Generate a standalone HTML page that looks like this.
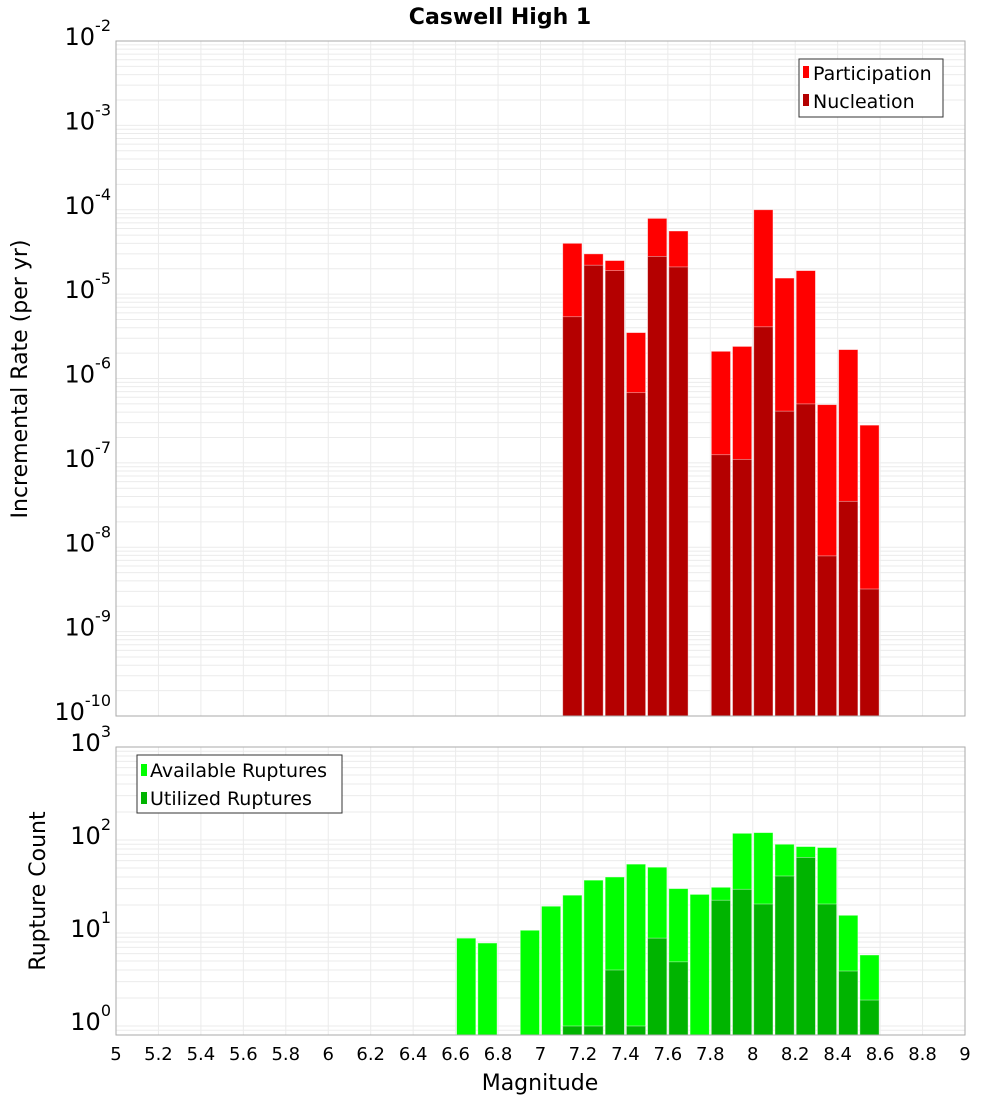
<!DOCTYPE html>
<html><head><meta charset="utf-8"><style>
body{margin:0;background:#fff}
svg text{font-family:"DejaVu Sans","Liberation Sans",sans-serif}
</style></head><body>
<svg id="c" width="1000" height="1100" xmlns="http://www.w3.org/2000/svg">
<text x="500" y="24" text-anchor="middle" font-size="22" font-weight="bold">Caswell High 1</text>
<g id="topPlot"></g>
<g id="botPlot"></g>
<text transform="translate(27,379) rotate(-90)" text-anchor="middle" font-size="22">Incremental Rate (per yr)</text>
<text transform="translate(45,891) rotate(-90)" text-anchor="middle" font-size="22">Rupture Count</text>
<text x="540" y="1090" text-anchor="middle" font-size="22">Magnitude</text>
<g>
<rect x="799" y="59" width="144" height="58" fill="#fff" stroke="#333"/>
<rect x="803" y="66" width="6" height="12" fill="#ff0000"/>
<text x="813" y="80" font-size="19">Participation</text>
<rect x="803" y="94" width="6" height="12" fill="#b40000"/>
<text x="813" y="108" font-size="19">Nucleation</text>
</g>
<g>
<rect x="137" y="755" width="205" height="58" fill="#fff" stroke="#333"/>
<rect x="141" y="764" width="6" height="12" fill="#00ff00"/>
<text x="150" y="777" font-size="19">Available Ruptures</text>
<rect x="141" y="792" width="6" height="12" fill="#00b400"/>
<text x="150" y="805" font-size="19">Utilized Ruptures</text>
</g>
</svg>
<script>
const rateMags=[7.15,7.25,7.35,7.45,7.55,7.65,7.85,7.95,8.05,8.15,8.25,8.35,8.45,8.55];
const participation=[4.0e-5,3.0e-5,2.5e-5,3.5e-6,7.9e-5,5.6e-5,2.1e-6,2.4e-6,1.0e-4,1.55e-5,1.9e-5,4.9e-7,2.2e-6,2.8e-7];
const nucleation=[5.4e-6,2.2e-5,1.9e-5,6.8e-7,2.8e-5,2.1e-5,1.25e-7,1.1e-7,4.1e-6,4.1e-7,5.0e-7,7.9e-9,3.5e-8,3.2e-9];
const countMags=[6.65,6.75,6.95,7.05,7.15,7.25,7.35,7.45,7.55,7.65,7.75,7.85,7.95,8.05,8.15,8.25,8.35,8.45,8.55];
const available=[8.8,7.8,10.7,19.4,25.5,37,40,55,51,30,26,31,118,120,90,85,83,15.5,5.8];
const utilized=[0,0,0,0,1,1,4,1,8.8,4.9,0,22.5,29.5,20.5,41,65,20.5,3.9,1.9];
const xTicks=[5,5.2,5.4,5.6,5.8,6,6.2,6.4,6.6,6.8,7,7.2,7.4,7.6,7.8,8,8.2,8.4,8.6,8.8,9];
const rateExps=[-2,-3,-4,-5,-6,-7,-8,-9,-10];
const countExps=[3,2,1,0];

const NS="http://www.w3.org/2000/svg";
const L=116,R=965;
const x=m=>L+(m-5)*(R-L)/4;
const T1=41,B1=716,yTop=v=>T1+(-2-Math.log10(v))*(B1-T1)/8;
const T2=747,B2=1035,yBot=v=>T2+(3-Math.log10(v))*93;
function el(p,tag,a){const e=document.createElementNS(NS,tag);for(const k in a)e.setAttribute(k,a[k]);p.appendChild(e);return e;}
function panel(g,T,B,yf,lo,hi,exps){
  el(g,'rect',{x:L,y:T,width:R-L,height:B-T,fill:'#fff'});
  for(let e=lo;e<hi;e++)for(let k=1;k<10;k++){const yy=yf(k*Math.pow(10,e));if(yy>=T-0.5&&yy<=B+0.5){const ln=el(g,'line',{x1:L,x2:R,y1:yy,y2:yy,stroke:'#ebebeb','stroke-width':1});}}
  xTicks.forEach(t=>{const ln=el(g,'line',{x1:x(t),x2:x(t),y1:T,y2:B,stroke:'#ebebeb'});});
  exps.forEach(e=>{const yy=yf(Math.pow(10,e));const t=el(g,'text',{x:L-5,y:yy+4,'text-anchor':'end','font-size':24});
    t.appendChild(document.createTextNode('10'));const s=el(t,'tspan',{dy:-14,'font-size':16});s.textContent=String(e);});
}
function bars(g,mags,vals,yf,B,fill,name){
  mags.forEach((m,i)=>{if(!(vals[i]>0))return;const yy=Math.max(yf(vals[i]),0);
    const r=el(g,'rect',{x:x(m-0.05)+1,y:yy,width:x(m+0.05)-x(m-0.05)-2,height:B-yy,fill:fill,stroke:'rgba(255,255,255,0.5)','stroke-width':0.8});
    });
}
const topG=document.getElementById('topPlot'),botG=document.getElementById('botPlot');
panel(topG,T1,B1,yTop,-10,-2,rateExps);
bars(topG,rateMags,participation,yTop,B1,'#ff0000','participation-bar');
bars(topG,rateMags,nucleation,yTop,B1,'#b40000','nucleation-bar');
el(topG,'rect',{x:L,y:T1,width:R-L,height:B1-T1,fill:'none',stroke:'#aaa'});
panel(botG,T2,B2,yBot,-1,3,countExps);
bars(botG,countMags,available,yBot,B2,'#00ff00','available-bar');
bars(botG,countMags,utilized,yBot,B2,'#00b400','utilized-bar');
el(botG,'rect',{x:L,y:T2,width:R-L,height:B2-T2,fill:'none',stroke:'#aaa'});
xTicks.forEach(t=>{const tx=el(botG,'text',{x:x(t),y:1060,'text-anchor':'middle','font-size':18});tx.textContent=String(t);
  });
</script>
</body></html>
